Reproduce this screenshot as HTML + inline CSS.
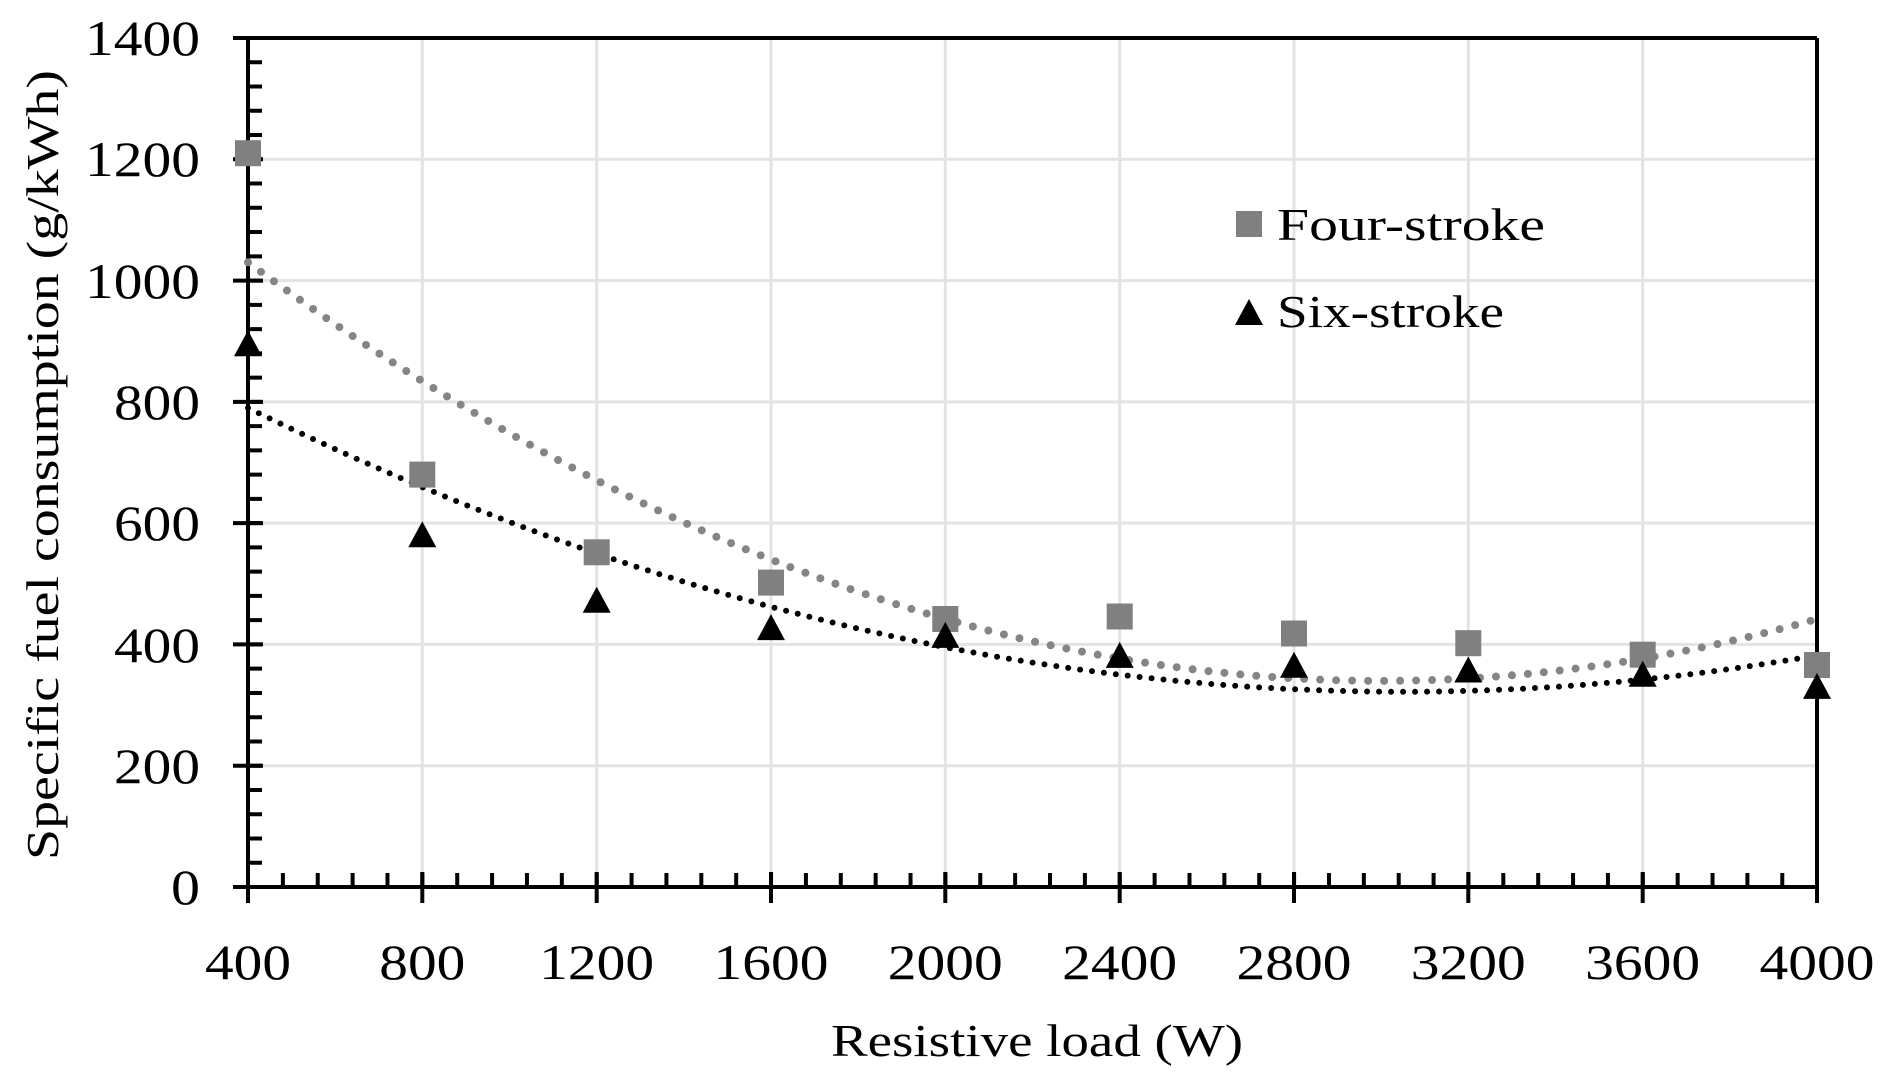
<!DOCTYPE html>
<html><head><meta charset="utf-8"><style>
html,body{margin:0;padding:0;background:#fff;}
svg{display:block;}
text{font-family:"Liberation Serif","DejaVu Serif",serif;fill:#000;}
</style></head><body>
<svg width="1892" height="1081" viewBox="0 0 1892 1081" xmlns="http://www.w3.org/2000/svg">
<rect width="1892" height="1081" fill="#fff"/>
<g stroke="#e3e3e3" stroke-width="3">
<line x1="248" y1="765.7" x2="1817" y2="765.7"/>
<line x1="248" y1="644.4" x2="1817" y2="644.4"/>
<line x1="248" y1="523.1" x2="1817" y2="523.1"/>
<line x1="248" y1="401.9" x2="1817" y2="401.9"/>
<line x1="248" y1="280.6" x2="1817" y2="280.6"/>
<line x1="248" y1="159.3" x2="1817" y2="159.3"/>
<line x1="422.3" y1="38" x2="422.3" y2="887"/>
<line x1="596.7" y1="38" x2="596.7" y2="887"/>
<line x1="771" y1="38" x2="771" y2="887"/>
<line x1="945.3" y1="38" x2="945.3" y2="887"/>
<line x1="1119.7" y1="38" x2="1119.7" y2="887"/>
<line x1="1294" y1="38" x2="1294" y2="887"/>
<line x1="1468.3" y1="38" x2="1468.3" y2="887"/>
<line x1="1642.7" y1="38" x2="1642.7" y2="887"/>
</g>
<g stroke="#000" stroke-width="4" fill="none">
<line x1="233" y1="38" x2="1817" y2="38"/>
<line x1="1817" y1="38" x2="1817" y2="903"/>
<line x1="248" y1="38" x2="248" y2="903"/>
<line x1="233" y1="887" x2="1817" y2="887"/>
</g>
<line x1="248" y1="880" x2="1817" y2="880" stroke="#000" stroke-width="14" stroke-dasharray="4 30.87" stroke-dashoffset="2"/>
<line x1="255" y1="887" x2="255" y2="38" stroke="#000" stroke-width="14" stroke-dasharray="4 20.257" stroke-dashoffset="2"/>
<g stroke="#000" stroke-width="4">
<line x1="233" y1="765.7" x2="263" y2="765.7"/>
<line x1="233" y1="644.4" x2="263" y2="644.4"/>
<line x1="233" y1="523.1" x2="263" y2="523.1"/>
<line x1="233" y1="401.9" x2="263" y2="401.9"/>
<line x1="233" y1="280.6" x2="263" y2="280.6"/>
<line x1="233" y1="159.3" x2="263" y2="159.3"/>
<line x1="422.3" y1="872" x2="422.3" y2="903"/>
<line x1="596.7" y1="872" x2="596.7" y2="903"/>
<line x1="771" y1="872" x2="771" y2="903"/>
<line x1="945.3" y1="872" x2="945.3" y2="903"/>
<line x1="1119.7" y1="872" x2="1119.7" y2="903"/>
<line x1="1294" y1="872" x2="1294" y2="903"/>
<line x1="1468.3" y1="872" x2="1468.3" y2="903"/>
<line x1="1642.7" y1="872" x2="1642.7" y2="903"/>
</g>
<path d="M248,262.3 Q1032.5,841.8 1817,619" fill="none" stroke="#858585" stroke-width="8" stroke-linecap="round" stroke-dasharray="0 16"/>
<path d="M248,407.9 Q1032.5,793.5 1817,655.3" fill="none" stroke="#000" stroke-width="6" stroke-linecap="round" stroke-dasharray="0 12"/>
<g fill="#808080">
<rect x="235" y="140.2" width="26" height="26"/>
<rect x="409.3" y="461.6" width="26" height="26"/>
<rect x="583.7" y="539.3" width="26" height="26"/>
<rect x="758" y="569.6" width="26" height="26"/>
<rect x="932.3" y="606" width="26" height="26"/>
<rect x="1106.7" y="603.5" width="26" height="26"/>
<rect x="1281" y="620.5" width="26" height="26"/>
<rect x="1455.3" y="630.2" width="26" height="26"/>
<rect x="1629.7" y="641.7" width="26" height="26"/>
<rect x="1804" y="652" width="26" height="26"/>
<rect x="1236" y="211" width="26" height="26"/>
</g>
<g fill="#000">
<polygon points="248,330.2 262,356.2 234,356.2"/>
<polygon points="422.3,521.3 436.3,547.3 408.3,547.3"/>
<polygon points="596.7,586.8 610.7,612.8 582.7,612.8"/>
<polygon points="771,614.1 785,640.1 757,640.1"/>
<polygon points="945.3,621.9 959.3,647.9 931.3,647.9"/>
<polygon points="1119.7,641.9 1133.7,667.9 1105.7,667.9"/>
<polygon points="1294,651.7 1308,677.7 1280,677.7"/>
<polygon points="1468.3,656.5 1482.3,682.5 1454.3,682.5"/>
<polygon points="1642.7,660.8 1656.7,686.8 1628.7,686.8"/>
<polygon points="1817,672.9 1831,698.9 1803,698.9"/>
<polygon points="1249,299 1263,325 1235,325"/>
</g>
<text x="1277" y="240" font-size="46" textLength="268" lengthAdjust="spacingAndGlyphs">Four-stroke</text>
<text x="1277" y="327" font-size="46" textLength="227" lengthAdjust="spacingAndGlyphs">Six-stroke</text>
<g font-size="50" text-anchor="end" lengthAdjust="spacingAndGlyphs">
<text x="200" y="904" textLength="29" lengthAdjust="spacingAndGlyphs">0</text>
<text x="200" y="783" textLength="86" lengthAdjust="spacingAndGlyphs">200</text>
<text x="200" y="662" textLength="86" lengthAdjust="spacingAndGlyphs">400</text>
<text x="200" y="540" textLength="86" lengthAdjust="spacingAndGlyphs">600</text>
<text x="200" y="419" textLength="86" lengthAdjust="spacingAndGlyphs">800</text>
<text x="200" y="298" textLength="115" lengthAdjust="spacingAndGlyphs">1000</text>
<text x="200" y="176" textLength="115" lengthAdjust="spacingAndGlyphs">1200</text>
<text x="200" y="55" textLength="115" lengthAdjust="spacingAndGlyphs">1400</text>
</g>
<g font-size="50" text-anchor="middle">
<text x="248" y="979" textLength="86" lengthAdjust="spacingAndGlyphs">400</text>
<text x="422.3" y="979" textLength="86" lengthAdjust="spacingAndGlyphs">800</text>
<text x="596.7" y="979" textLength="115" lengthAdjust="spacingAndGlyphs">1200</text>
<text x="771" y="979" textLength="115" lengthAdjust="spacingAndGlyphs">1600</text>
<text x="945.3" y="979" textLength="115" lengthAdjust="spacingAndGlyphs">2000</text>
<text x="1119.7" y="979" textLength="115" lengthAdjust="spacingAndGlyphs">2400</text>
<text x="1294" y="979" textLength="115" lengthAdjust="spacingAndGlyphs">2800</text>
<text x="1468.3" y="979" textLength="115" lengthAdjust="spacingAndGlyphs">3200</text>
<text x="1642.7" y="979" textLength="115" lengthAdjust="spacingAndGlyphs">3600</text>
<text x="1817" y="979" textLength="115" lengthAdjust="spacingAndGlyphs">4000</text>
</g>
<text x="1037" y="1056" font-size="46" text-anchor="middle" textLength="412" lengthAdjust="spacingAndGlyphs">Resistive load (W)</text>
<text transform="translate(58,465) rotate(-90)" font-size="46" text-anchor="middle" textLength="790" lengthAdjust="spacingAndGlyphs">Specific fuel consumption (g/kWh)</text>
</svg>
</body></html>
